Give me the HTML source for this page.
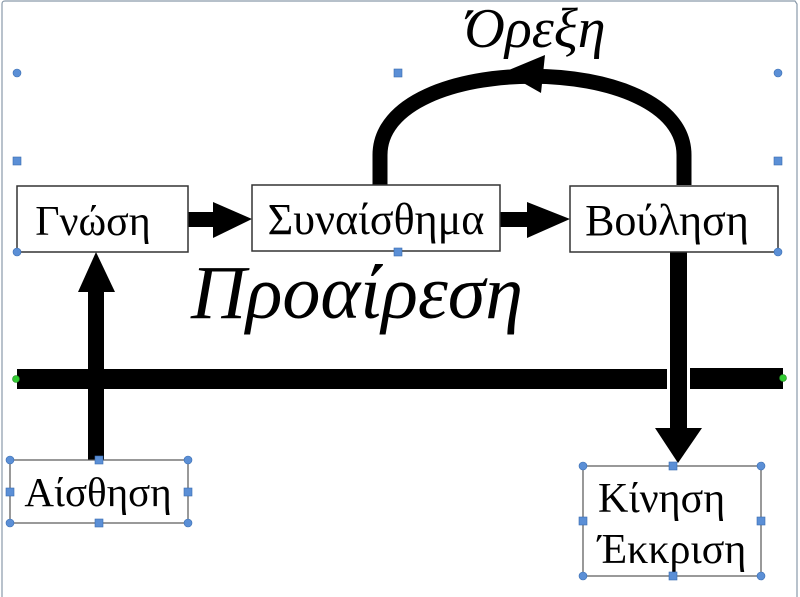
<!DOCTYPE html>
<html><head><meta charset="utf-8"><style>
html,body{margin:0;padding:0;background:#fff;}
svg{display:block;}
text{font-family:"Liberation Serif","DejaVu Serif",serif;fill:#000;}
</style></head><body>
<svg width="800" height="597" viewBox="0 0 800 597" xmlns="http://www.w3.org/2000/svg">
<rect width="800" height="597" fill="#fff"/>
<path d="M2,597 L2,4 Q2,1 5,1 L795,1 L797,4 L797,597" fill="none" stroke="#8a9aaa" stroke-width="1.2"/>

<path d="M380,185 L380,155 C380,50 684,50 684,155 L684,185" fill="none" stroke="#000" stroke-width="15"/>
<polygon points="504,72 545,55 541,93" fill="#000"/>

<rect x="17" y="369" width="650" height="20" fill="#000"/>
<rect x="690" y="368" width="93" height="21" fill="#000"/>

<rect x="670" y="250" width="17" height="182" fill="#000"/>
<polygon points="655,428 702,428 678,463" fill="#000"/>

<rect x="88" y="288" width="16" height="175" fill="#000"/>
<polygon points="78,292 115,292 96,252" fill="#000"/>

<rect x="188" y="212" width="28" height="15" fill="#000"/>
<polygon points="213,202 213,238 252,219" fill="#000"/>
<rect x="500" y="212" width="30" height="15" fill="#000"/>
<polygon points="527,202 527,238 570,219" fill="#000"/>

<rect x="17" y="186" width="171" height="66" fill="#fff" stroke="#333" stroke-width="1.5"/>
<rect x="252" y="185" width="248" height="66" fill="#fff" stroke="#333" stroke-width="1.5"/>
<rect x="570" y="186" width="208" height="66" fill="#fff" stroke="#333" stroke-width="1.5"/>
<rect x="10" y="460" width="178" height="63" fill="#fff" stroke="#555" stroke-width="1.2"/>
<rect x="583" y="466" width="178" height="110" fill="#fff" stroke="#555" stroke-width="1.2"/>

<text x="93" y="235" font-size="42" text-anchor="middle">Γνώση</text>
<text x="376" y="234" font-size="44" text-anchor="middle">Συναίσθημα</text>
<text x="667" y="235" font-size="44" text-anchor="middle">Βούληση</text>
<text x="98" y="506" font-size="41" text-anchor="middle">Αίσθηση</text>
<text x="598" y="512" font-size="42">Κίνηση</text>
<text x="598" y="563" font-size="42">Έκκριση</text>
<text x="535" y="47" font-size="56" font-style="italic" text-anchor="middle">Όρεξη</text>
<text x="357" y="318" font-size="76" font-style="italic" text-anchor="middle">Προαίρεση</text>

<g fill="#5b8fd6" stroke="#3a6db0" stroke-width="0.6">
<circle cx="17" cy="73" r="4"/><rect x="394" y="69" width="8" height="8"/><circle cx="778" cy="73" r="4"/>
<rect x="13" y="157" width="8" height="8"/><rect x="774" y="157" width="8" height="8"/>
<circle cx="17" cy="252" r="4"/><rect x="394" y="248" width="8" height="8"/><circle cx="778" cy="252" r="4"/>
<circle cx="10" cy="460" r="4"/><rect x="95" y="456" width="8" height="8"/><circle cx="188" cy="460" r="4"/>
<rect x="6" y="488" width="8" height="8"/><rect x="184" y="488" width="8" height="8"/>
<circle cx="10" cy="523" r="4"/><rect x="95" y="519" width="8" height="8"/><circle cx="188" cy="523" r="4"/>
<circle cx="583" cy="466" r="4"/><rect x="669" y="462" width="8" height="8"/><circle cx="761" cy="466" r="4"/>
<rect x="579" y="517" width="8" height="8"/><rect x="757" y="517" width="8" height="8"/>
<circle cx="583" cy="576" r="4"/><rect x="669" y="572" width="8" height="8"/><circle cx="761" cy="576" r="4"/>
</g>
<circle cx="16" cy="379" r="3.5" fill="#3c3" stroke="#282" stroke-width="0.6"/>
<circle cx="783" cy="378" r="3.5" fill="#3c3" stroke="#282" stroke-width="0.6"/>
</svg>
</body></html>
